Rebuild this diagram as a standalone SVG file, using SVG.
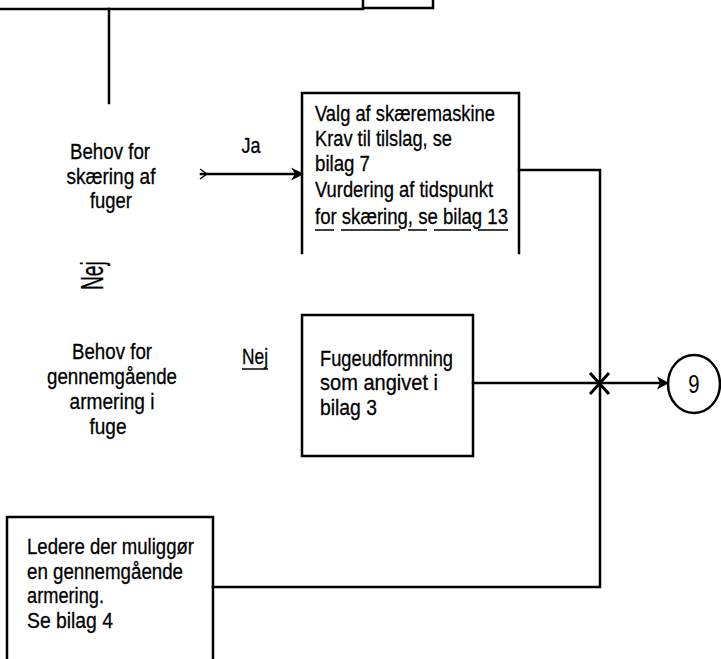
<svg xmlns="http://www.w3.org/2000/svg" width="721" height="659" viewBox="0 0 721 659">
<style>
.t{font-family:"Liberation Sans",Arial,sans-serif;font-size:22px;fill:#000;stroke:#000;stroke-width:0.3}
.c{text-anchor:middle}
.ln{fill:none;stroke:#000;stroke-width:2.5;stroke-linecap:square}
.thin{fill:none;stroke:#000;stroke-width:1.5}
.ul{stroke:#000;stroke-width:1.5}
.ah{fill:#000;stroke:none}
</style>
<rect width="721" height="659" fill="#fff"/>
<g id="top">
<path class="ln" d="M0,9 H363" stroke-width="3"/>
<path class="ln" d="M363,0 V8 H433 V0"/>
</g>
<g id="connectors">
<path class="ln" d="M109,9 V103"/>
<path class="ln" d="M201,174 H296"/>
<path class="thin" d="M200,169 L207,174 L200,179"/>
<path class="ah" d="M304,174 L291,167.5 L295,174 L291,180.5 Z"/>
<path class="ln" d="M519,170 H600 V587 H213"/>
<path class="ln" d="M473,383 H660"/>
<path class="ah" d="M669,383 L657,376.5 L660,383 L657,389.5 Z"/>
<path class="ln" d="M591,374 L608,393 M591,393 L608,374" style="stroke-width:3"/>
</g>
<g id="behov1">
<text class="t c" x="110" y="159" textLength="80" lengthAdjust="spacingAndGlyphs">Behov for</text>
<text class="t c" x="111" y="184" textLength="89" lengthAdjust="spacingAndGlyphs">skæring af</text>
<text class="t c" x="111" y="208" textLength="42" lengthAdjust="spacingAndGlyphs">fuger</text>
</g>
<g id="ja">
<text class="t c" x="251" y="153" textLength="19" lengthAdjust="spacingAndGlyphs">Ja</text>
</g>
<g id="box1">
<path class="ln" d="M302,253 V93 H519 V253"/>
<text class="t" x="315" y="121" textLength="180" lengthAdjust="spacingAndGlyphs">Valg af skæremaskine</text>
<text class="t" x="315" y="146" textLength="137" lengthAdjust="spacingAndGlyphs">Krav til tilslag, se</text>
<text class="t" x="315" y="171" textLength="55" lengthAdjust="spacingAndGlyphs">bilag 7</text>
<text class="t" x="315" y="197" textLength="178" lengthAdjust="spacingAndGlyphs">Vurdering af tidspunkt</text>
<text class="t" x="315" y="224" textLength="193" lengthAdjust="spacingAndGlyphs">for skæring, se bilag 13</text>
<path class="ul" d="M315,230 H334 M341,230 H400 M408,230 H427 M434,230 H471 M478,230 H508"/>
</g>
<g id="nej1">
<text class="t" x="0" y="0" style="font-size:32px" transform="translate(103 290) rotate(-90) scale(0.6 1)">Nej</text>
</g>
<g id="behov2">
<text class="t c" x="112" y="359" textLength="80" lengthAdjust="spacingAndGlyphs">Behov for</text>
<text class="t c" x="112" y="384" textLength="130" lengthAdjust="spacingAndGlyphs">gennemgående</text>
<text class="t c" x="112" y="409" textLength="85" lengthAdjust="spacingAndGlyphs">armering i</text>
<text class="t c" x="108" y="434" textLength="37" lengthAdjust="spacingAndGlyphs">fuge</text>
</g>
<g id="nej2">
<text class="t" x="242" y="364" textLength="26" lengthAdjust="spacingAndGlyphs">Nej</text>
<path class="ul" d="M242,369 H268"/>
</g>
<g id="box2">
<rect class="ln" x="302" y="315" width="171" height="141"/>
<text class="t" x="320" y="366" textLength="133" lengthAdjust="spacingAndGlyphs">Fugeudformning</text>
<text class="t" x="320" y="390" textLength="118" lengthAdjust="spacingAndGlyphs">som angivet i</text>
<text class="t" x="320" y="415" textLength="57" lengthAdjust="spacingAndGlyphs">bilag 3</text>
</g>
<g id="n9">
<ellipse class="ln" cx="694" cy="384" rx="26" ry="29"/>
<text class="t c" x="0" y="0" style="font-size:26px;stroke-width:0" transform="translate(694 393) scale(0.78 1)">9</text>
</g>
<g id="box3">
<path class="ln" d="M7,659 V517 H213 V659"/>
<text class="t" x="27" y="554" textLength="167" lengthAdjust="spacingAndGlyphs">Ledere der muliggør</text>
<text class="t" x="27" y="579" textLength="156" lengthAdjust="spacingAndGlyphs">en gennemgående</text>
<text class="t" x="27" y="603" textLength="77" lengthAdjust="spacingAndGlyphs">armering.</text>
<text class="t" x="27" y="628" textLength="86" lengthAdjust="spacingAndGlyphs">Se bilag 4</text>
</g>
</svg>
